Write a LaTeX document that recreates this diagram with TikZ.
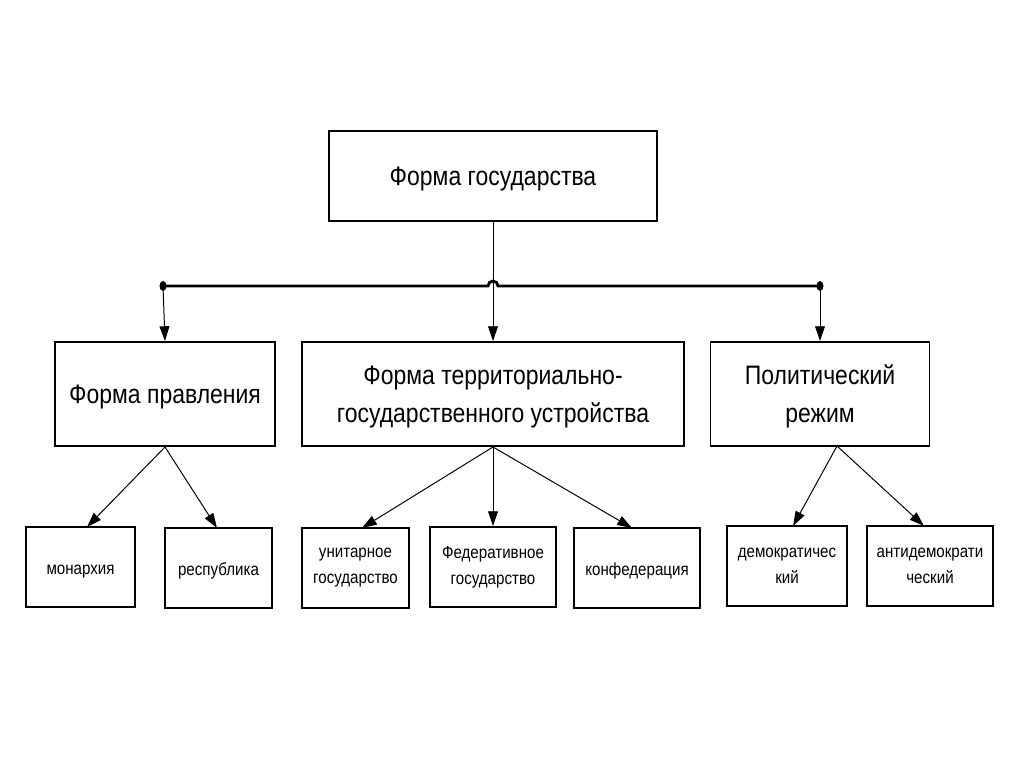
\documentclass[tikz,border=0pt]{standalone}
\usepackage{fontspec}
\setmainfont[FakeStretch=0.86]{Liberation Sans}
\usetikzlibrary{arrows.meta}
\usetikzlibrary{shapes,arrows}

\begin{document}
\begin{tikzpicture}[x=0.025cm,y=-0.025cm,draw=black!100]
	\def \rowoneht{176}
	\def \rowtwoht{394}
	\def \rowthreeht{567}
	\def \busht{286}
	\tikzstyle{big-node}=[rectangle,draw=black!100,line width=1.4pt,inner sep=0pt,align=center,text depth=-0.05em,font=\fontsize{19}{27}\selectfont]
	\tikzstyle{sm-node}=[rectangle,draw=black!100,line width=1.4pt,inner sep=0pt,align=center,execute at begin node={\rule{0pt}{13pt}},font=\fontsize{12.5}{18.4}\selectfont]
	\tikzstyle{arr}=[-{Triangle[length=10.5pt,width=7pt]},line width=0.7pt]
	\useasboundingbox (0,0) rectangle (1024,767);

	% top
	\node[big-node,minimum width=328*0.025cm,minimum height=90*0.025cm] (forma) at (493,\rowoneht) {Форма государства};

	% second row
	\node[big-node,minimum width=220*0.025cm,minimum height=104*0.025cm] (pravl) at (165,\rowtwoht) {Форма правления};
	\node[big-node,minimum width=382*0.025cm,minimum height=104*0.025cm] (terr) at (493,\rowtwoht) {Форма территориально-\\государственного устройства};
	\node[big-node,minimum width=219*0.025cm,minimum height=104*0.025cm] (rezhim) at (820,\rowtwoht) {Политический\\режим};

	% third row
	\node[sm-node,minimum width=109*0.025cm,minimum height=80*0.025cm] (mon) at (80.5,\rowthreeht) {монархия};
	\node[sm-node,minimum width=107*0.025cm,minimum height=80*0.025cm] (resp) at (218.5,568) {республика};
	\node[sm-node,minimum width=107*0.025cm,minimum height=80*0.025cm] (unit) at (355.5,568) {унитарное\\государство};
	\node[sm-node,minimum width=126*0.025cm,minimum height=80*0.025cm] (fed) at (493,\rowthreeht) {Федеративное\\государство};
	\node[sm-node,minimum width=126*0.025cm,minimum height=80*0.025cm] (konf) at (637,568) {конфедерация};
	\node[sm-node,minimum width=120*0.025cm,minimum height=80*0.025cm] (dem) at (787,566) {демократичес\\кий};
	\node[sm-node,minimum width=126*0.025cm,minimum height=80*0.025cm] (antidem) at (930,566) {антидемократи\\ческий};

	% bus
	\coordinate (b-left) at (163,\busht);
	\coordinate (b-right) at (820,\busht);
	\draw[line width=2pt] (b-left) -- (488,\busht) arc (180:360:5) -- (b-right);
	\fill (b-left) ellipse (3.5 and 5);
	\fill (b-right) ellipse (3.5 and 5);

	\draw[arr] (forma) -- (terr);
	\draw[arr] (b-left) -- (pravl.north);
	\draw[arr] (b-right) -- (rezhim.north);

	\path (pravl.south) edge[arr] (87,527)
		(pravl.south) edge[arr] (217,528)
		(terr.south) edge[arr] (362,528)
		(terr.south) edge[arr] (fed)
		(terr.south) edge[arr] (632,528)
		(837,446) edge[arr] (793,526)
		(837,446) edge[arr] (924,526);

\end{tikzpicture}
\end{document}
